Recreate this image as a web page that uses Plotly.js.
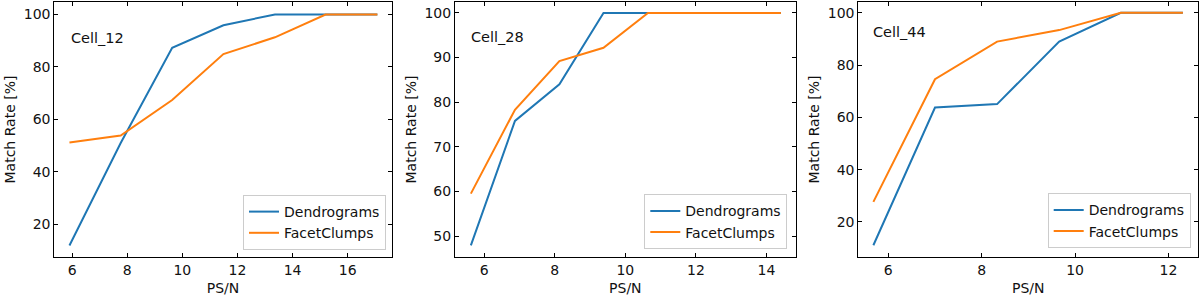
<!DOCTYPE html>
<html>
<head>
<meta charset="utf-8">
<script src="https://cdn.plot.ly/plotly-3.0.1.min.js"></script>
<style>html,body{margin:0;padding:0;background:#fff;}#chart{width:1200px;height:296px;}</style>
</head>
<body>
<div id="chart"></div>
<script>
// ---- data ----
const seriesNames = ["Dendrograms", "FacetClumps"];
const cellLabels = ["Cell_12", "Cell_28", "Cell_44"];

const psn12 = [5.9, 7.76, 9.63, 11.49, 13.36, 15.2, 17.08];
const dendro12 = [12.0, 51.0, 87.3, 95.9, 100, 100, 100];
const facet12 = [51.2, 53.9, 67.4, 84.9, 91.3, 100, 100];

const psn28 = [5.62, 6.87, 8.13, 9.38, 10.64, 11.9, 13.15, 14.41];
const dendro28 = [47.9, 75.8, 84.0, 100, 100, 100, 100, 100];
const facet28 = [59.5, 78.3, 89.2, 92.2, 100, 100, 100, 100];

const psn44 = [5.68, 7.0, 8.33, 9.66, 10.98, 12.31];
const dendro44 = [11.1, 63.8, 65.1, 89.0, 100, 100];
const facet44 = [27.7, 74.6, 89.0, 93.4, 100, 100];

const colors = ["#1f77b4", "#ff7f0e"];
const FONT = "DejaVu Sans, Liberation Sans, sans-serif";
const W = 1200, H = 296;

const panels = [
  {x: psn12, d: dendro12, f: facet12, label: cellLabels[0],
   px: [54.3, 391.7], xr: [5.35, 17.6], yr: [7.6, 104.75], dy: 20,
   lab: [0.044, 0.858], leg: [386, 250]},
  {x: psn28, d: dendro28, f: facet28, label: cellLabels[1],
   px: [455, 795.7], xr: [5.17, 14.83], yr: [45.3, 102.45], dy: 10,
   lab: [0.042, 0.864], leg: [787.3, 249.3]},
  {x: psn44, d: dendro44, f: facet44, label: cellLabels[2],
   px: [858.3, 1198.3], xr: [5.357, 12.64], yr: [6.6, 104.15], dy: 20,
   lab: [0.036, 0.882], leg: [1190.7, 248.3]}
];
const plotTop = 2, plotBottom = 257;

const traces = [];
const layout = {
  width: W, height: H,
  margin: {l: 0, r: 0, t: 0, b: 0},
  paper_bgcolor: "#fff", plot_bgcolor: "#fff",
  font: {family: FONT, size: 14, color: "#111"},
  showlegend: true,
  annotations: []
};

panels.forEach((p, i) => {
  const n = i === 0 ? "" : String(i + 1);
  const xa = "x" + n, ya = "y" + n;
  const legName = "legend" + n;
  [p.d, p.f].forEach((vals, k) => {
    traces.push({
      type: "scatter", mode: "lines",
      x: p.x, y: vals, name: seriesNames[k],
      xaxis: xa, yaxis: ya, legend: legName,
      line: {color: colors[k], width: 2}
    });
  });
  const axCommon = {
    showline: true, linecolor: "#000", linewidth: 1, mirror: "allticks",
    ticks: "inside", ticklen: 4, tickwidth: 1, tickcolor: "#000",
    showgrid: false, zeroline: false,
    tickfont: {family: FONT, size: 14, color: "#111"}
  };
  layout["xaxis" + n] = Object.assign({}, axCommon, {
    domain: [p.px[0] / W, p.px[1] / W],
    range: p.xr, dtick: 2, tick0: 0,
    anchor: ya,
    title: {text: "PS/N", font: {family: FONT, size: 14, color: "#111"}, standoff: 6}
  });
  layout["yaxis" + n] = Object.assign({}, axCommon, {
    domain: [1 - plotBottom / H, 1 - plotTop / H],
    range: p.yr, dtick: p.dy, tick0: 0,
    anchor: xa,
    title: {text: "Match Rate [%]", font: {family: FONT, size: 14, color: "#111"}, standoff: 4}
  });
  layout[legName] = {
    x: p.leg[0] / W, y: 1 - p.leg[1] / H,
    xref: "paper", yref: "paper",
    xanchor: "right", yanchor: "bottom",
    bgcolor: "rgba(255,255,255,0.8)",
    bordercolor: "#cccccc", borderwidth: 1,
    font: {family: FONT, size: 14, color: "#111"},
    tracegroupgap: 0
  };
  layout.annotations.push({
    text: p.label, showarrow: false,
    xref: xa + " domain", yref: ya + " domain",
    x: p.lab[0], y: p.lab[1], xanchor: "left", yanchor: "middle",
    font: {family: FONT, size: 14.5, color: "#111"}
  });
});

Plotly.newPlot("chart", traces, layout, {displayModeBar: false, staticPlot: true});
</script>
</body>
</html>
